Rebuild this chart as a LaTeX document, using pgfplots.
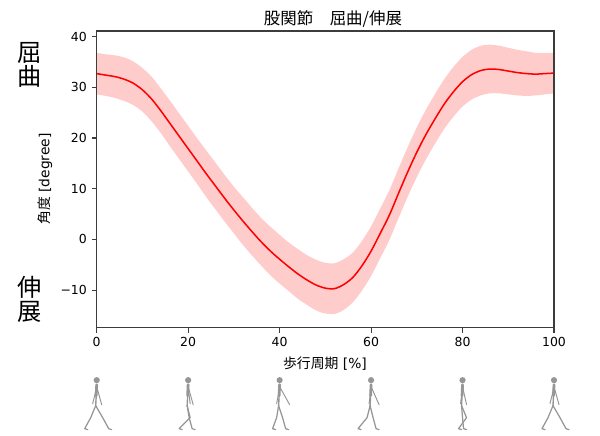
\documentclass[border=0pt]{standalone}
\usepackage{fontspec}
\setmainfont{DejaVu Sans}
\newfontfamily\jp{Noto Sans CJK JP}
\usepackage{pgfplots}
\usepackage{pgfplotstable}
\pgfplotsset{compat=1.18}
\usepgfplotslibrary{fillbetween}
\usetikzlibrary{calc}
\definecolor{band}{RGB}{255,204,204}
\definecolor{spine}{RGB}{60,60,60}
\definecolor{skel}{RGB}{150,150,150}

\pgfplotstableread{
x m s
0 32.7 4.1
2 32.4 4.1
4 32.1 4.2
6 31.6 4.3
8 30.8 4.3
10 29.5 4.3
12 27.7 4.4
14 25.4 4.4
16 22.9 4.5
18 20.4 4.5
20 17.9 4.5
22 15.4 4.5
24 12.9 4.6
26 10.5 4.6
28 8.1 4.6
30 5.8 4.6
32 3.6 4.7
34 1.5 4.7
36 -0.5 4.7
38 -2.3 4.8
40 -3.9 4.8
42 -5.4 4.8
44 -6.8 4.9
46 -8.0 4.9
48 -9.0 5.0
50 -9.6 5.0
52 -9.7 5.0
54 -8.9 5.0
56 -7.5 4.9
58 -5.2 4.9
60 -2.3 4.9
62 1.2 4.9
64 4.8 4.9
66 9.1 4.9
68 13.3 4.9
70 17.2 4.9
72 20.7 4.9
74 23.8 4.9
76 26.7 4.9
78 29.1 4.9
80 31.1 4.9
82 32.5 4.9
84 33.3 4.9
86 33.6 4.8
88 33.5 4.7
90 33.2 4.6
92 32.9 4.5
94 32.7 4.4
96 32.6 4.2
98 32.7 4.1
100 32.8 4.0
}\hipdata

% t, front knee x, front foot x, back knee x, back foot x, hand1 x, hand2 x
\newcommand{\walker}[7]{%
\begin{scope}[shift={($(ax.south west)!#1!(ax.south east)$)}, x=0.01in, y=0.01in, draw=skel, line width=0.7pt, line cap=round, line join=round]
  \fill[skel] (0,-52.5) circle (3.1);
  \draw[line width=2pt] (0,-57) -- (-0.5,-68);
  \draw[line width=1pt] (-0.5,-68) -- (-1,-78);
  \draw (0,-59) -- ({0.5*#6},-68) -- (#6,-77);
  \draw (0,-59) -- ({0.5*#7},-68) -- (#7,-76);
  \draw[line width=0.9pt] (-1,-78) -- (#4,-90) -- (#5,-101) -- ({#5+3},-102);
  \draw[line width=0.9pt] (-1,-78) -- (#2,-90) -- (#3,-101) -- ({#3+3},-102);
\end{scope}}

\begin{document}
\begin{tikzpicture}
\path (0,0) rectangle (6in,4.36in);
\begin{axis}[name=ax, at={(0.967in,1.083in)}, anchor=south west,
  scale only axis, width=4.573in, height=2.967in,
  xmin=0, xmax=100, ymin=-17.4, ymax=41.1,
  xtick={0,20,40,60,80,100}, ytick={-10,0,10,20,30,40},
  xticklabels={0,20,40,60,80,100},
  yticklabels={−10,0,10,20,30,40},
  tick align=outside, xtick pos=bottom, ytick pos=left,
  major tick length=0.05in,
  tick style={spine, line width=0.8pt},
  axis line style={spine, line width=0.8pt},
  ticklabel style={font=\fontsize{9}{11}\selectfont},
  axis on top]
\addplot[name path=up, draw=none, forget plot, smooth] table[x=x, y expr=\thisrow{m}+\thisrow{s}] {\hipdata};
\addplot[name path=lo, draw=none, forget plot, smooth] table[x=x, y expr=\thisrow{m}-\thisrow{s}] {\hipdata};
\addplot[band, draw=none] fill between[of=up and lo];
\addplot[red, line width=1.1pt, smooth] table[x=x, y=m] {\hipdata};
\end{axis}
\node[font=\jp\fontsize{11.9}{14}\selectfont] at (3.33in,4.165in) {股関節　屈曲/伸展};
\node[rotate=90, font=\fontsize{10}{12}\selectfont] at (0.45in,2.57in) {{\jp 角度} [degree]};
\node[font=\fontsize{10}{12}\selectfont] at (3.25in,0.72in) {{\jp 歩行周期} [\%]};
\node[font=\jp\fontsize{17.5}{20}\selectfont] at (0.295in,3.835in) {屈};
\node[font=\jp\fontsize{17.5}{20}\selectfont] at (0.295in,3.60in) {曲};
\node[font=\jp\fontsize{17.5}{20}\selectfont] at (0.295in,1.485in) {伸};
\node[font=\jp\fontsize{17.5}{20}\selectfont] at (0.295in,1.245in) {展};
\walker{0}{6}{12}{-6}{-12}{5}{-4}
\walker{0.2}{1}{4}{2}{-9}{5}{2}
\walker{0.4}{3}{6}{-3}{-7}{10}{-3}
\walker{0.6}{2}{5}{-4}{-13}{8}{-2}
\walker{0.8}{0}{1}{4}{-4}{4}{-2}
\walker{1}{6}{12}{-6}{-12}{5}{-4}
\end{tikzpicture}
\end{document}
